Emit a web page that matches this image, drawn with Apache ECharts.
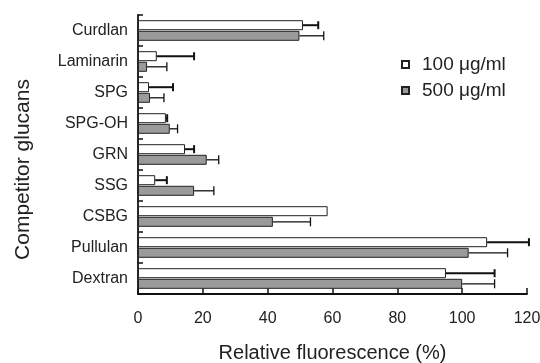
<!DOCTYPE html>
<html>
<head>
<meta charset="utf-8">
<script src="https://cdn.jsdelivr.net/npm/echarts@6/dist/echarts.min.js"></script>
<style>
html,body{margin:0;padding:0;background:#fff;}
#chart{width:540px;height:363px;}
</style>
</head>
<body>
<div id="chart"></div>
<script>
var categories = ['Curdlan', 'Laminarin', 'SPG', 'SPG-OH', 'GRN', 'SSG', 'CSBG', 'Pullulan', 'Dextran'];
var seriesNames = ['100 \u03bcg/ml', '500 \u03bcg/ml'];
var values100 = [50.9, 5.8, 3.4, 8.6, 14.5, 5.3, 58.5, 107.7, 95];
var errors100 = [4.7, 11.5, 7.4, 0.4, 2.8, 3.6, 0, 12.9, 15];
var values500 = [49.8, 2.8, 3.7, 9.8, 21.2, 17.3, 41.6, 102, 100];
var errors500 = [7.5, 6.1, 4.3, 2.4, 3.7, 6.1, 11.6, 12, 10];
var xTicks = [0, 20, 40, 60, 80, 100, 120];

var FONT = '"Liberation Sans", Arial, sans-serif';
var BAR_W = 10;
var BAR_GAP = 0.6;

function errData(vals, errs) {
  return vals.map(function (v, i) { return [v, i, errs[i]]; });
}

function errRender(offset, lw, capHalf) {
  return function (params, api) {
    var v = api.value(0), cat = api.value(1), e = api.value(2);
    if (!e) return null;
    var s = api.coord([v, cat]);
    var t = api.coord([v + e, cat]);
    var y = s[1] + offset;
    return {
      type: 'group',
      children: [
        { type: 'line', shape: { x1: s[0], y1: y, x2: t[0], y2: y }, style: { stroke: '#111', lineWidth: lw } },
        { type: 'line', shape: { x1: t[0], y1: y - capHalf, x2: t[0], y2: y + capHalf }, style: { stroke: '#111', lineWidth: lw } }
      ]
    };
  };
}

var off = (BAR_W + BAR_GAP) / 2;

var chart = echarts.init(document.getElementById('chart'));
chart.setOption({
  animation: false,
  backgroundColor: '#fff',
  textStyle: { fontFamily: FONT },
  grid: { left: 138, right: 13, top: 15, bottom: 69, containLabel: false, outerBoundsMode: 'none' },
  legend: {
    orient: 'vertical',
    left: 396,
    top: 50,
    icon: 'rect',
    itemWidth: 7,
    itemHeight: 7,
    itemGap: 7,
    data: seriesNames,
    textStyle: { fontSize: 19, color: '#222', fontFamily: FONT, padding: [0, 0, 0, 8] }
  },
  xAxis: {
    type: 'value',
    min: xTicks[0],
    max: xTicks[xTicks.length - 1],
    interval: 20,
    splitLine: { show: false },
    axisLine: { show: true, lineStyle: { color: '#111', width: 1.8 } },
    axisTick: { show: true, inside: true, length: 6, lineStyle: { color: '#111', width: 1.5 } },
    axisLabel: { fontSize: 16, color: '#222', margin: 17, fontFamily: FONT },
    name: 'Relative fluorescence (%)',
    nameLocation: 'middle',
    nameGap: 49,
    nameTextStyle: { fontSize: 20, color: '#222', fontFamily: FONT }
  },
  yAxis: {
    type: 'category',
    inverse: true,
    data: categories,
    axisLine: { show: true, lineStyle: { color: '#111', width: 1.8 } },
    axisTick: { show: true, inside: true, length: 5, alignWithLabel: false, lineStyle: { color: '#111', width: 1.5 } },
    axisLabel: { fontSize: 16, color: '#222', margin: 10, fontFamily: FONT },
    name: 'Competitor glucans',
    nameLocation: 'middle',
    nameGap: 104,
    nameTextStyle: { fontSize: 21, color: '#222', fontFamily: FONT, padding: [0, 30, 0, 0] }
  },
  series: [
    {
      name: seriesNames[0],
      type: 'bar',
      data: values100,
      barWidth: BAR_W,
      barGap: '6%',
      itemStyle: { color: '#ffffff', borderColor: '#222', borderWidth: 1 }
    },
    {
      name: seriesNames[1],
      type: 'bar',
      data: values500,
      barWidth: BAR_W,
      barGap: '6%',
      itemStyle: { color: '#9a9a9a', borderColor: '#222', borderWidth: 1 }
    },
    {
      type: 'custom',
      name: 'err100',
      renderItem: errRender(-off, 2, 4),
      encode: { x: 0, y: 1 },
      data: errData(values100, errors100),
      z: 5
    },
    {
      type: 'custom',
      name: 'err500',
      renderItem: errRender(off, 1.3, 4.5),
      encode: { x: 0, y: 1 },
      data: errData(values500, errors500),
      z: 5
    }
  ]
});
</script>
</body>
</html>
